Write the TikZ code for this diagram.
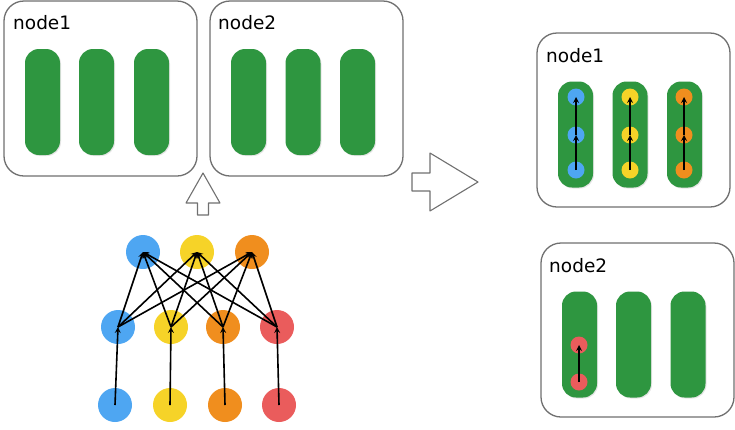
\documentclass[tikz,border=0pt]{standalone}
\usepackage{fontspec}
\setmainfont{DejaVu Sans}
\usetikzlibrary{shadows}
\definecolor{nblue}{RGB}{78,166,242}
\definecolor{nyellow}{RGB}{246,211,40}
\definecolor{norange}{RGB}{240,142,30}
\definecolor{nred}{RGB}{234,92,92}
\definecolor{ngreen}{RGB}{46,150,64}
\definecolor{nframe}{RGB}{112,112,112}
\tikzset{
	box/.style={draw=nframe,line width=1.3pt,rounded corners=20pt,fill=white,inner sep=0pt},
	pill/.style={fill=ngreen,rounded corners=14pt,minimum width=35pt,minimum height=106pt,inner sep=0pt,
		drop shadow={opacity=0.2,shadow xshift=1pt,shadow yshift=-1pt}},
	neuron/.style={circle,fill=#1,minimum size=34pt,inner sep=0pt},
	dot/.style={circle,fill=#1,minimum size=17pt,inner sep=0pt},
	lbl/.style={anchor=base west,inner sep=0pt},
	hollow/.style={draw=nframe,line width=1.1pt,fill=white},
	wire/.style={->,line width=1.6pt}
}
\begin{document}
\begin{tikzpicture}[x=1pt,y=-1pt,line join=round,>=stealth,font=\fontsize{18.5}{22}\selectfont]
	\useasboundingbox (0,0) rectangle (735,429);
	% hai node ben trai
	\node[box,minimum width=193pt,minimum height=175pt] (a1) at (100.5,88.5) {};
	\node[box,minimum width=193pt,minimum height=175pt] (a2) at (306.5,88.5) {};
	\node[lbl] at (13,29) {node1};
	\node[lbl] at (218,29) {node2};
	\foreach \x [count=\i] in {42.5,96.5,151.5} \node[pill] (ap\i) at (\x,102) {};
	\foreach \x [count=\i] in {248.5,303,357.5} \node[pill] (bp\i) at (\x,102) {};
	% hai node ben phai
	\node[box,minimum width=193pt,minimum height=174pt] (c1) at (633.5,120) {};
	\node[box,minimum width=193pt,minimum height=174pt] (c2) at (637.5,330) {};
	\node[lbl] at (546,62) {node1};
	\node[lbl] at (549,272) {node2};
	\foreach \x [count=\i] in {575.5,630,684.5} \node[pill] (cp\i) at (\x,134.5) {};
	\foreach \x [count=\i] in {579.5,633.5,688} \node[pill] (dp\i) at (\x,344.5) {};
	% mui ten rong
	\draw[hollow] (203,173)--(220,203)--(208.5,203)--(208.5,215)--(197.5,215)--(197.5,203)--(186,203)--cycle;
	\draw[hollow] (478,182)--(430,211)--(430,191)--(412,191)--(412,173)--(430,173)--(430,153)--cycle;
	% mang
	\foreach \x/\c [count=\i] in {143/nblue,197/nyellow,252/norange}
		\node[neuron=\c] (t\i) at (\x,252) {};
	\foreach \x/\c [count=\i] in {118/nblue,171/nyellow,223/norange,277/nred}
		\node[neuron=\c] (m\i) at (\x,327) {};
	\foreach \x/\c [count=\i] in {115/nblue,170/nyellow,225/norange,279/nred}
		\node[neuron=\c] (u\i) at (\x,405) {};
	\foreach \i in {1,...,4} \draw[wire] (u\i.center)--(m\i.center);
	\foreach \i in {1,...,4} \foreach \j in {1,2,3}
		\draw[wire] (m\i.center)--(t\j.center);
	% cac diem trong node1 ben phai
	\foreach \x/\c [count=\i] in {576/nblue,630/nyellow,684/norange}{
		\node[dot=\c] (r\i a) at (\x,170) {};
		\node[dot=\c] (r\i b) at (\x,135) {};
		\node[dot=\c] (r\i c) at (\x,97) {};
		\draw[wire] (r\i a.center)--(r\i b.center);
		\draw[wire] (r\i b.center)--(r\i c.center);
	}
	\node[dot=nred] (sa) at (579,382) {};
	\node[dot=nred] (sb) at (579,345) {};
	\draw[wire] (sa.center)--(sb.center);
\end{tikzpicture}
\end{document}
